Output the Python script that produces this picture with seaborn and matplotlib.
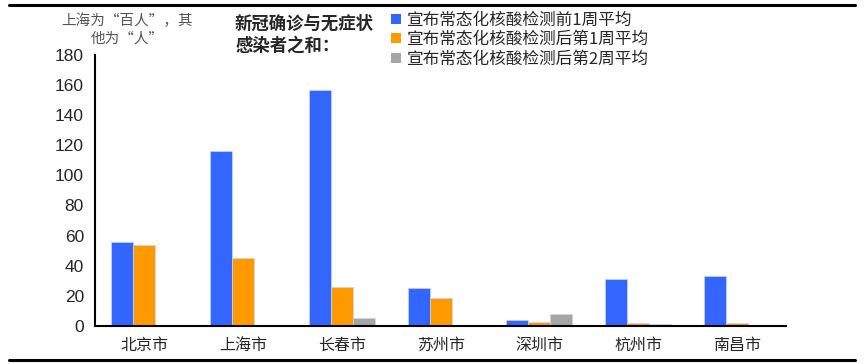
import numpy as np
import pandas as pd
import seaborn as sns
import matplotlib.pyplot as plt
from matplotlib.lines import Line2D
from matplotlib.patches import Patch

# ---- 数据 ----
cities = ["北京市", "上海市", "长春市", "苏州市", "深圳市", "杭州市", "南昌市"]
series_names = ["宣布常态化核酸检测前1周平均",
                "宣布常态化核酸检测后第1周平均",
                "宣布常态化核酸检测后第2周平均"]
before_1w = [56, 116, 157, 25, 3.8, 31, 33]
after_1w = [54, 45, 26, 18.5, 2.2, 1.8, 1.8]
after_2w = [np.nan, np.nan, 5.2, np.nan, 7.5, 1.1, np.nan]
colors = ["#3366FF", "#FF9900", "#A5A5A5"]

df = pd.DataFrame({
    "city": cities * 3,
    "series": [s for s in series_names for _ in cities],
    "value": before_1w + after_1w + after_2w,
})

sns.set_style("white")
plt.rcParams["font.family"] = ["Noto Sans CJK SC", "DejaVu Sans"]

fig = plt.figure(figsize=(8.64, 3.64), dpi=100)
ax = fig.add_axes([0.110, 0.105, 0.800, 0.744])

sns.barplot(data=df, x="city", y="value", hue="series", order=cities,
            hue_order=series_names, palette=colors, saturation=1, width=0.67,
            edgecolor="#C8D4FF", linewidth=0.5, ax=ax, legend=False)

ax.set_ylim(0, 180)
ax.set_xlim(-0.5, len(cities) - 0.5)
ax.set_yticks(range(0, 181, 20))
ax.set_yticklabels([str(v) for v in range(0, 181, 20)],
                   family=["Liberation Sans"], fontsize=12.5)
ax.set_xlabel("")
ax.set_ylabel("")
ax.set_xticks(range(len(cities)))
ax.set_xticklabels(cities, fontsize=11.5)
ax.set_xticks(np.arange(-0.5, len(cities)), minor=True)
ax.tick_params(axis="x", which="major", length=0, pad=8)
ax.tick_params(axis="x", which="minor", length=5, width=1.2, direction="out")
ax.tick_params(axis="y", length=5, width=1.2, direction="out", pad=3)
for side in ["top", "right"]:
    ax.spines[side].set_visible(False)
for side in ["left", "bottom"]:
    ax.spines[side].set_color("black")
    ax.spines[side].set_linewidth(1.5)

# 单位说明与标题
fig.text(0.147, 0.919, "上海为“百人”，其\n他为“人”", ha="center", va="center",
         fontsize=10.5, color="#555555", linespacing=1.35)
fig.text(0.272, 0.905, "新冠确诊与无症状\n感染者之和：", ha="left", va="center",
         fontsize=12.5, fontweight="bold", linespacing=1.35)

handles = [Patch(facecolor=c, edgecolor="none") for c in colors]
fig.legend(handles, series_names, loc="upper left",
           bbox_to_anchor=(0.453, 0.967), frameon=False, fontsize=12,
           handlelength=0.55, handleheight=0.55, handletextpad=0.4,
           labelspacing=0.14, borderaxespad=0, borderpad=0)

# 上下分隔线
fig.add_artist(Line2D([0.01, 0.99], [1 - 5 / 364] * 2, color="black", lw=2.2))
fig.add_artist(Line2D([0.01, 0.99], [1 - 360 / 364] * 2, color="black", lw=2.2))

fig.savefig("out.png", dpi=100)
